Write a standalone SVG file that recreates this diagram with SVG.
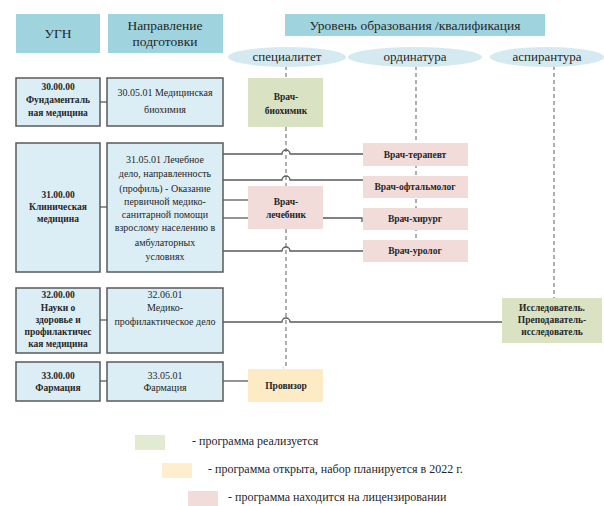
<svg xmlns="http://www.w3.org/2000/svg" width="604" height="506" viewBox="0 0 604 506">
<style>
text{font-family:"Liberation Serif","DejaVu Serif","Times New Roman",serif;fill:#262626;text-anchor:middle}
.hdr{fill:#9fd4df}
.ell{fill:#d5eaf0}
.box{fill:#dceef5;stroke:#5a5a5a;stroke-width:1.5}
.g{fill:#d9e3c3}
.p{fill:#f1dcda}
.y{fill:#fdebc6}
.h{font-size:13.5px}
.e{font-size:13px}
.b{font-size:9.5px;font-weight:bold}
.n{font-size:10px}
.lg{font-size:12px;text-anchor:start}
.ln{fill:none;stroke:#5a5a5a;stroke-width:1.3}
.ds{fill:none;stroke:#7a7a7a;stroke-width:1.2;stroke-dasharray:4 3}
</style>
<rect width="604" height="506" fill="#ffffff"/>

<g id="connectors">
  <path class="ds" d="M286,66 V78 M286,127 V186 M286,229 V366 l-3,2"/>
  <path class="ds" d="M416,66 V240"/>
  <path class="ds" d="M554,66 V298"/>
  <path class="ln" d="M100,102 H107"/>
  <path class="ln" d="M100,207 H107"/>
  <path class="ln" d="M100,320 H107"/>
  <path class="ln" d="M100,381 H107"/>
  <path class="ln" d="M223,154 H282 a4,4 0 0 1 8,0 H363"/>
  <path class="ln" d="M223,180 H282 a4,4 0 0 1 8,0 H363"/>
  <path class="ln" d="M223,200 H248"/>
  <path class="ln" d="M223,218 H248"/>
  <path class="ln" d="M323,218 H362 V222"/>
  <path class="ln" d="M223,251 H282 a4,4 0 0 1 8,0 H363"/>
  <path class="ln" d="M223,322 H282 a4,4 0 0 1 8,0 H502"/>
  <path class="ln" d="M223,381 H248"/>
</g>

<g id="h-ugn"><rect class="hdr" x="16" y="14" width="84" height="39"/><text class="h" x="58" y="38">УГН</text></g>
<g id="h-napr"><rect class="hdr" x="108" y="14" width="115" height="39"/><text class="h" x="165" y="30">Направление</text><text class="h" x="165" y="46">подготовки</text></g>
<g id="h-level"><rect class="hdr" x="285" y="14" width="260" height="22"/><text class="h" x="415" y="30">Уровень образования /квалификация</text></g>

<g id="e-spec"><ellipse class="ell" cx="287" cy="57" rx="59" ry="10"/><text class="e" x="287" y="61">специалитет</text></g>
<g id="e-ord"><ellipse class="ell" cx="415" cy="57" rx="67" ry="10"/><text class="e" x="415" y="61">ординатура</text></g>
<g id="e-asp"><ellipse class="ell" cx="547" cy="57" rx="57" ry="10"/><text class="e" x="547" y="61">аспирантура</text></g>

<g id="ugn30"><rect class="box" x="16" y="78" width="84" height="48"/>
<text class="b" x="58" y="90">30.00.00</text><text class="b" x="58" y="103">Фундаменталь</text><text class="b" x="58" y="116">ная медицина</text></g>
<g id="napr30"><rect class="box" x="107" y="78" width="116" height="48"/>
<text class="n" x="165" y="96">30.05.01 Медицинская</text><text class="n" x="165" y="113">биохимия</text></g>

<g id="ugn31"><rect class="box" x="16" y="143" width="84" height="129"/>
<text class="b" x="58" y="198">31.00.00</text><text class="b" x="58" y="210">Клиническая</text><text class="b" x="58" y="222">медицина</text></g>
<g id="napr31"><rect class="box" x="107" y="143" width="116" height="129"/>
<text class="n" x="165" y="163">31.05.01 Лечебное</text>
<text class="n" x="165" y="177">дело, направленность</text>
<text class="n" x="165" y="192">(профиль) - Оказание</text>
<text class="n" x="165" y="205">первичной медико-</text>
<text class="n" x="165" y="218">санитарной помощи</text>
<text class="n" x="165" y="231">взрослому населению в</text>
<text class="n" x="165" y="246">амбулаторных</text>
<text class="n" x="165" y="260">условиях</text></g>

<g id="ugn32"><rect class="box" x="16" y="288" width="84" height="65"/>
<text class="b" x="58" y="298">32.00.00</text><text class="b" x="58" y="311">Науки о</text><text class="b" x="58" y="323">здоровье и</text><text class="b" x="58" y="335">профилактичес</text><text class="b" x="58" y="347">кая медицина</text></g>
<g id="napr32"><rect class="box" x="107" y="288" width="116" height="65"/>
<text class="n" x="165" y="298">32.06.01</text><text class="n" x="165" y="311">Медико-</text><text class="n" x="165" y="325">профилактическое дело</text></g>

<g id="ugn33"><rect class="box" x="16" y="362" width="84" height="39"/>
<text class="b" x="58" y="379">33.00.00</text><text class="b" x="58" y="391">Фармация</text></g>
<g id="napr33"><rect class="box" x="107" y="362" width="116" height="39"/>
<text class="n" x="165" y="379">33.05.01</text><text class="n" x="165" y="391">Фармация</text></g>

<g id="biochem"><rect class="g" x="248" y="78" width="75" height="49"/>
<text class="b" x="286" y="100">Врач-</text><text class="b" x="286" y="114">биохимик</text></g>
<g id="lechebnik"><rect class="p" x="248" y="186" width="75" height="43"/>
<text class="b" x="286" y="205">Врач-</text><text class="b" x="286" y="218">лечебник</text></g>
<g id="provizor"><rect class="y" x="248" y="369" width="75" height="33"/>
<text class="b" x="286" y="389">Провизор</text></g>

<g id="terapevt"><rect class="p" x="363" y="143" width="105" height="23"/><text class="b" x="415" y="158">Врач-терапевт</text></g>
<g id="oftalmolog"><rect class="p" x="363" y="176" width="105" height="22"/><text class="b" x="415" y="190">Врач-офтальмолог</text></g>
<g id="hirurg"><rect class="p" x="363" y="208" width="105" height="22"/><text class="b" x="415" y="222">Врач-хирург</text></g>
<g id="urolog"><rect class="p" x="363" y="240" width="105" height="22"/><text class="b" x="415" y="254">Врач-уролог</text></g>

<g id="issled"><rect class="g" x="502" y="298" width="100" height="45"/>
<text class="b" x="552" y="311">Исследователь.</text><text class="b" x="552" y="323">Преподаватель-</text><text class="b" x="552" y="335">исследователь</text></g>

<g id="legend">
  <rect class="g" x="135" y="435" width="30" height="15" opacity="0.75"/>
  <text class="lg" x="192" y="445">- программа реализуется</text>
  <rect class="y" x="162" y="463" width="30" height="15" opacity="0.85"/>
  <text class="lg" x="208" y="473">- программа открыта, набор планируется в 2022 г.</text>
  <rect class="p" x="188" y="491" width="30" height="15"/>
  <text class="lg" x="228" y="501">- программа находится на лицензировании</text>
</g>
</svg>
